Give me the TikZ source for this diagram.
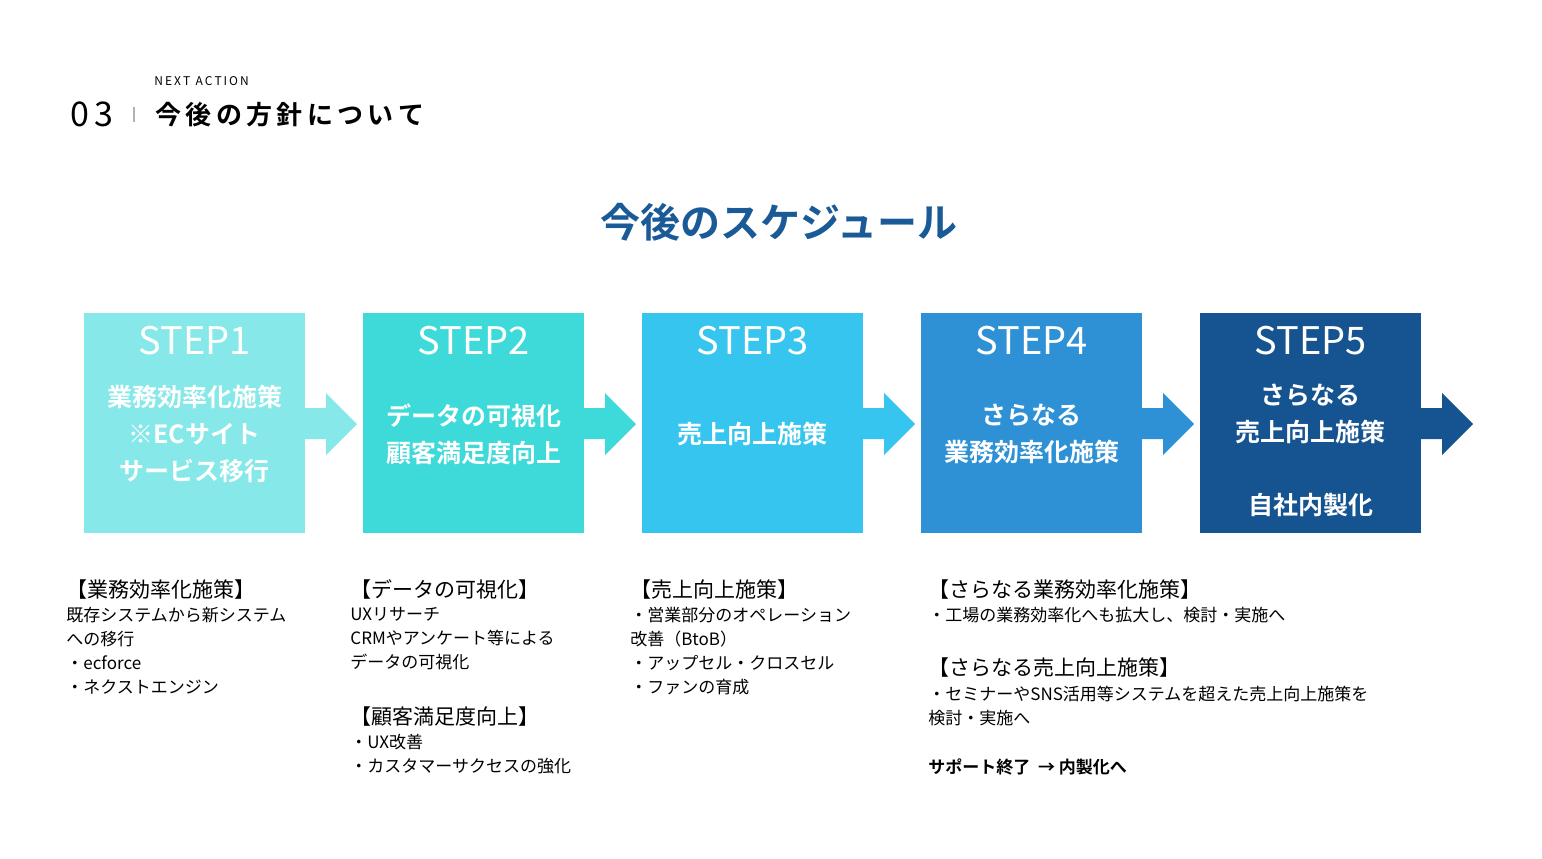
\documentclass[tikz,border=0pt]{standalone}
\usepackage{fontspec}
\setmainfont{Noto Sans CJK JP}
\newfontfamily\jpbold{Noto Sans CJK JP Bold}
\usetikzlibrary{positioning}
\definecolor{cstepA}{HTML}{86E8E8}
\definecolor{cstepB}{HTML}{3ED9D9}
\definecolor{cstepC}{HTML}{35C5EE}
\definecolor{cstepD}{HTML}{2E91D6}
\definecolor{cstepE}{HTML}{155490}
\definecolor{ctitle}{HTML}{1A5A96}
\begin{document}
\begin{tikzpicture}[x=0.5pt, y=-0.5pt]
      \tikzset{
	  stepbox/.style={rectangle, minimum width=110.5pt, minimum height=110pt, inner sep=0pt},
	  steplabel/.style={text=white, font=\fontsize{19}{19}\selectfont},
	  stepbody/.style={text=white, align=center, font=\jpbold\fontsize{12.5}{18.5}\selectfont},
	  notehead/.style={anchor=north west, font=\fontsize{10.5}{12}\selectfont, inner sep=0pt},
	  notetext/.style={anchor=north west, align=left, font=\fontsize{8.5}{12}\selectfont, inner sep=0pt}
      }
      \useasboundingbox (0,0) rectangle (1542,858);

      % header
      \node[anchor=west, inner sep=0pt, font=\fontsize{6}{6}\selectfont] (next) at (154,81) {N\,E\,X\,T\ \ A\,C\,T\,I\,O\,N};
      \node[anchor=west, inner sep=0pt, font=\fontsize{17}{17}\selectfont] (num) at (70,114) {0\,3};
      \draw[gray!60, line width=0.6pt] (134,107) -- (134,122);
      \node[anchor=west, inner sep=0pt, font=\jpbold\fontsize{13}{13}\selectfont] (head) at (155,115) {今\,後\,の\,方\,針\,に\,つ\,い\,て};
      \node[text=ctitle, font=\jpbold\fontsize{20}{20}\selectfont] (title) at (779,222) {今後のスケジュール};

      % steps with arrows
      \foreach \i/\x/\c in {1/84/cstepA, 2/363/cstepB, 3/642/cstepC, 4/921/cstepD, 5/1200/cstepE} {
        \fill[\c] (\x+221,408) -- (\x+242,408) -- (\x+242,393) -- (\x+273,424)
          -- (\x+242,455) -- (\x+242,439) -- (\x+221,439) -- cycle;
        \node[stepbox, fill=\c, anchor=north west] (step\i) at (\x,313) {};
        \node[steplabel] (lab\i) at (\x+110.5,341) {STEP\i};
      }
      \node[stepbody] (body1) at (194.5,434) {業務効率化施策\\※ECサイト\\サービス移行};
      \node[stepbody] (body2) at (473.5,434) {データの可視化\\顧客満足度向上};
      \node[stepbody] (body3) at (752.5,434) {売上向上施策};
      \node[stepbody] (body4) at (1031.5,434) {さらなる\\業務効率化施策};
      \node[stepbody] (body5) at (1310.5,450) {さらなる\\売上向上施策\\[18pt]自社内製化};

      % notes
      \node[notehead] (h1) at (66,579) {【業務効率化施策】};
      \node[notetext] (t1) at (66,607) {既存システムから新システム\\への移行\\・ecforce\\・ネクストエンジン};
      \node[notehead] (h2) at (350,579) {【データの可視化】};
      \node[notetext] (t2) at (350,607) {UXリサーチ\\CRMやアンケート等による\\データの可視化};
      \node[notehead] (h3) at (350,706) {【顧客満足度向上】};
      \node[notetext] (t3) at (350,734) {・UX改善\\・カスタマーサクセスの強化};
      \node[notehead] (h4) at (630,579) {【売上向上施策】};
      \node[notetext] (t4) at (630,607) {・営業部分のオペレーション\\改善（BtoB）\\・アップセル・クロスセル\\・ファンの育成};
      \node[notehead] (h5) at (928,579) {【さらなる業務効率化施策】};
      \node[notetext] (t5) at (928,607) {・工場の業務効率化へも拡大し、検討・実施へ};
      \node[notehead] (h6) at (928,657) {【さらなる売上向上施策】};
      \node[notetext] (t6) at (928,686) {・セミナーやSNS活用等システムを超えた売上向上施策を\\検討・実施へ};
      \node[notetext, font=\jpbold\fontsize{8.5}{12}\selectfont] (t7) at (928,758) {サポート終了\ \ →\ 内製化へ};
\end{tikzpicture}
\end{document}
